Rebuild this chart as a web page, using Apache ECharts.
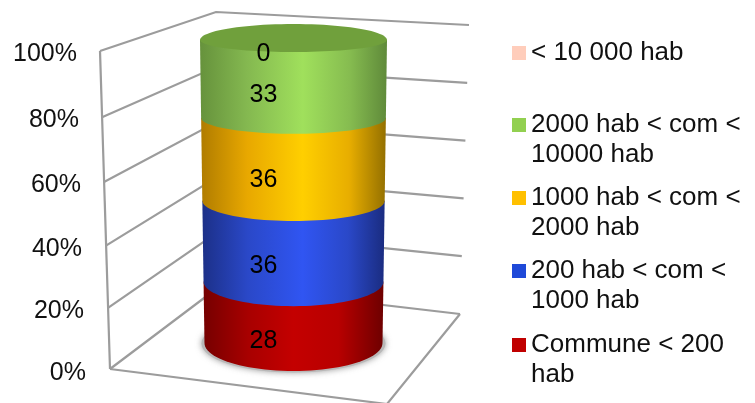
<!DOCTYPE html>
<html><head><meta charset="utf-8">
<style>html,body{margin:0;padding:0;background:#fff}#c{width:755px;height:403px}</style>
<script src="https://cdn.jsdelivr.net/npm/echarts@6/dist/echarts.min.js"></script>
</head><body><div id="c"></div>
<script>
const categories = ["Commune < 200\nhab","200 hab < com <\n1000 hab","1000 hab < com <\n2000 hab","2000 hab < com <\n10000 hab","< 10 000 hab"];
const values = [28,36,36,33,0];
const legendColors = ["#C00000","#1F49D8","#FFC000","#92D050","#FFCDBB"];
const tickValues = [0,20,40,60,80,100];
const shades = [
  [[0,"#760000"],[0.25,"#a80000"],[0.5,"#c40000"],[0.75,"#b80000"],[1,"#6e0000"]],
  [[0,"#1c3088"],[0.25,"#2a48c8"],[0.55,"#3055f2"],[0.8,"#2a48c8"],[1,"#1a2c80"]],
  [[0,"#b07c00"],[0.25,"#e8a800"],[0.55,"#ffcf00"],[0.8,"#e8ae00"],[1,"#947000"]],
  [[0,"#66923c"],[0.25,"#84b850"],[0.55,"#a0e05c"],[0.8,"#86bc50"],[1,"#5f8a3a"]],
  [[0,"#FFCDBB"],[1,"#FFCDBB"]]
];
const total = values.reduce((a,b)=>a+b,0);
const lerp=(a,b,t)=>a+(b-a)*t;
const FF='"Liberation Sans", Arial, sans-serif';
const FONT='25px '+FF;
const LINE={stroke:'#9c9c9c',lineWidth:2.2,fill:null};
const bow=(t,d)=>4*d*t*(1-t);

function frontY(api,pct){
  const t=pct/100;
  return api.coord([0,pct])[1]-1-t+bow(t,3.5);
}
function renderWall(p,api){
  const v=api.value(1), t=v/100, y=api.coord([0,v])[1];
  const l=[lerp(110,100,t),y-3+bow(t,4)];
  const c=[lerp(220,216,t),lerp(286,12,t)];
  const r=[lerp(460,469,t),lerp(314,25,t)];
  const children=[{type:'polyline',shape:{points:[l,c,r]},style:LINE}];
  if(v===100) children.push({type:'polyline',shape:{points:[l,[110,369]]},style:LINE});
  if(v===0) children.push({type:'polyline',shape:{points:[l,[387,404],r]},style:LINE});
  return {type:'group',children};
}
function arc(cx,yc,rx,by,n){
  const pts=[];
  for(let i=0;i<=n;i++){const a=Math.PI*i/n;pts.push([cx-rx*Math.cos(a),yc+by*Math.sin(a)]);}
  return pts;
}
function renderSeg(i){return function(p,api){
  const p0=api.value(1),p1=api.value(2),raw=api.value(3);
  const cx=api.coord([0,0])[0], half=api.size([1,0])[0]/2;
  const t0=p0/100,t1=p1/100;
  const rx=t=>half*lerp(0.952,1,t), by=t=>lerp(28,12,t);
  const children=[];
  if(i===0){
    const fy=frontY(api,0);
    children.push({type:'ellipse',shape:{cx:cx,cy:fy-by(0)+0.5,rx:rx(0)+3,ry:by(0)+1},
      style:{fill:'#b8b8b8',shadowBlur:6,shadowColor:'rgba(90,90,90,0.6)'}});
  }
  if(raw>0){
    const fy0=frontY(api,p0),fy1=frontY(api,p1);
    const bottom=arc(cx,fy0-by(t0),rx(t0),by(t0),48);
    const top=[[cx+rx(t1),fy1-by(t1)],[cx-rx(t1),fy1-by(t1)]];
    children.push({type:'polygon',shape:{points:bottom.concat(top)},
      style:{fill:{type:'linear',x:0,y:0,x2:1,y2:0,colorStops:shades[i].map(s=>({offset:s[0],color:s[1]}))}}});
    if(p1>=99.999){
      const yc=fy1-by(t1);
      const front=arc(cx,yc,rx(t1),by(t1),48);
      const back=arc(cx,yc,rx(t1),16,48).map(q=>[q[0],2*yc-q[1]]).reverse();
      children.push({type:'polygon',shape:{points:front.concat(back)},style:{fill:'#70a03c'}});
    }
  }
  const ly=frontY(api,(p0+p1)/2)+2.5;
  children.push({type:'text',z2:10,style:{text:String(raw),x:cx-30,y:ly,fill:'#000',font:FONT,align:'center',verticalAlign:'middle'}});
  return {type:'group',children};
};}

let cum=0;
const segSeries=values.map((v,i)=>{
  const p0=cum/total*100; cum+=v; const p1=cum/total*100;
  return {type:'custom',name:categories[i],coordinateSystem:'cartesian2d',silent:true,
    itemStyle:{color:legendColors[i]},z:3+i,
    renderItem:renderSeg(i),data:[[0,p0,p1,v]],encode:{x:0,y:[1,2]}};
});
const legendTops=[330,256,183,110,38];
const TWO='path://M0,0L14,0L14,14L0,14Z M0,44L14,44L14,44Z';
const legends=categories.map((n,i)=>({
  show:true,left:512,top:legendTops[i],orient:'vertical',selectedMode:false,padding:0,
  itemWidth:14,itemHeight:n.includes('\n')?44:14,itemGap:0,symbolKeepAspect:false,
  icon:n.includes('\n')?TWO:'rect',
  textStyle:{color:'#111',fontSize:26,lineHeight:30,fontFamily:FF,padding:0},
  data:[{name:n,itemStyle:{color:legendColors[i]}}]
}));

const labelRich={};
tickValues.forEach(v=>{
  const t=v/100;
  labelRich['p'+v]={color:'#111',fontSize:25,fontFamily:FF,
    padding:[Math.round(2*(bow(t,4)+(v===0?1:0))),Math.round(t*9),0,0]};
});

const chart=echarts.init(document.getElementById('c'),null,{renderer:'canvas'});
chart.setOption({
  animation:false,backgroundColor:'#fff',
  grid:{left:200,right:368,top:54,bottom:31,containLabel:false},
  xAxis:{type:'category',data:['c'],show:false,boundaryGap:true},
  yAxis:{type:'value',min:0,max:100,interval:20,
    axisLine:{show:false},axisTick:{show:false},splitLine:{show:false},
    axisLabel:{formatter:v=>'{p'+v+'|'+v+'%}',margin:114,rich:labelRich}},
  legend:legends,
  series:[{type:'custom',name:'walls',silent:true,z:1,renderItem:renderWall,
    data:tickValues.map(v=>[0,v]),encode:{x:0,y:1}}].concat(segSeries)
});
</script></body></html>
